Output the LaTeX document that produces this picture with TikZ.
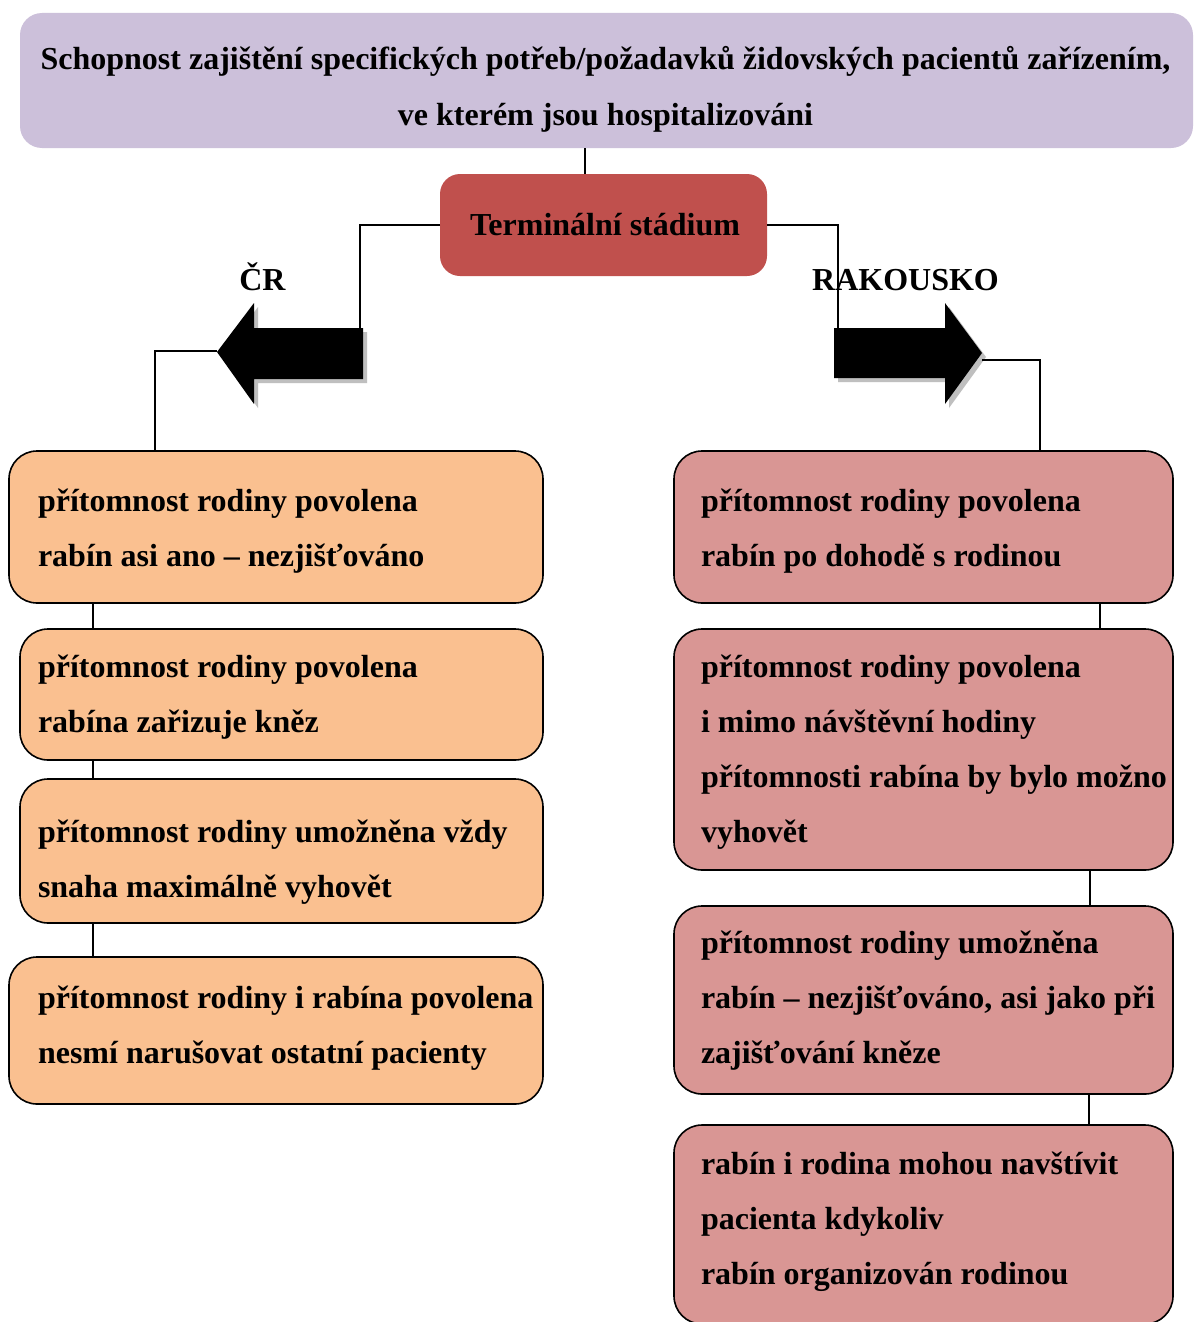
\documentclass[tikz,border=0pt]{standalone}
\usepackage{fontspec}
\setmainfont{Liberation Serif}
\definecolor{headfill}{HTML}{CCC0DA}
\definecolor{termfill}{HTML}{C0504D}
\definecolor{czfill}{HTML}{FAC090}
\definecolor{atfill}{HTML}{D99694}
\definecolor{shadegray}{HTML}{BFBFBF}
% one text line per node, baselines 55pt apart
\newcommand\boxtext[4]{%
  \foreach \s [count=\k] in {#4} {\node[txt] (#1-\k) at (#2,{#3+55*(\k-1)}) {\s};}}
\begin{document}
\begin{tikzpicture}[x=1pt,y=-1pt,
  every node/.style={inner sep=0pt, outer sep=0pt},
  headbox/.style={rectangle, fill=headfill, rounded corners=22pt, anchor=north west},
  termbox/.style={rectangle, fill=termfill, rounded corners=20pt, anchor=north west},
  czbox/.style={rectangle, draw=black, line width=1.6pt, fill=czfill, rounded corners=28pt, anchor=north west},
  atbox/.style={rectangle, draw=black, line width=1.6pt, fill=atfill, rounded corners=28pt, anchor=north west},
  txt/.style={anchor=base west, font=\bfseries\fontsize{32}{38}\selectfont},
  ctxt/.style={anchor=base, font=\bfseries\fontsize{32}{38}\selectfont},
  conn/.style={draw=black, line width=1.3pt},
  bigarrow/.style={fill=black},
  arrowshade/.style={fill=shadegray}]

\fill[white] (0,0) rectangle (1194,1322);
\useasboundingbox (0,0) rectangle (1194,1322);

% heading
\node[headbox, minimum width=1173pt, minimum height=135pt] (top) at (20,13) {};
\node[ctxt] (top-1) at (605.5,70) {Schopnost zajištění specifických potřeb/požadavků židovských pacientů zařízením,};
\node[ctxt] (top-2) at (605.5,125) {ve kterém jsou hospitalizováni};

% stage
\node[termbox, minimum width=327pt, minimum height=102pt] (term) at (440,174) {};
\node[ctxt] (term-1) at (605,235) {Terminální stádium};

% branch labels
\node[ctxt] (cz) at (262.5,290) {ČR};
\node[ctxt] (at) at (905.5,290) {RAKOUSKO};

% block arrows
\fill[arrowshade, shift={(4,4)}] (363,328) -- (254,328) -- (254,303) -- (217,352) -- (254,404) -- (254,379) -- (363,379) -- cycle;
\fill[bigarrow] (363,328) -- (254,328) -- (254,303) -- (217,352) -- (254,404) -- (254,379) -- (363,379) -- cycle;
\fill[arrowshade, shift={(4,4)}] (834,328) -- (945,328) -- (945,303) -- (982,353) -- (945,404) -- (945,378) -- (834,378) -- cycle;
\fill[bigarrow] (834,328) -- (945,328) -- (945,303) -- (982,353) -- (945,404) -- (945,378) -- (834,378) -- cycle;
\coordinate (ltail) at (360,328);
\coordinate (ltip) at (217,351);
\coordinate (rtail) at (838,328);
\coordinate (rtip) at (982,360);

% Czech column
\node[czbox, minimum width=534pt, minimum height=152pt] (l1) at (9,451) {};
\node[czbox, minimum width=523pt, minimum height=131pt] (l2) at (20,629) {};
\node[czbox, minimum width=523pt, minimum height=144pt] (l3) at (20,779) {};
\node[czbox, minimum width=534pt, minimum height=147pt] (l4) at (9,957) {};
\boxtext{l1t}{38}{511}{{přítomnost rodiny povolena},{rabín asi ano – nezjišťováno}}
\boxtext{l2t}{38}{677}{{přítomnost rodiny povolena},{rabína zařizuje kněz}}
\boxtext{l3t}{38}{842}{{přítomnost rodiny umožněna vždy},{snaha maximálně vyhovět}}
\boxtext{l4t}{38}{1008}{{přítomnost rodiny i rabína povolena},{nesmí narušovat ostatní pacienty}}

% Austrian column
\node[atbox, minimum width=499pt, minimum height=152pt] (r1) at (674,451) {};
\node[atbox, minimum width=499pt, minimum height=241pt] (r2) at (674,629) {};
\node[atbox, minimum width=499pt, minimum height=188pt] (r3) at (674,906) {};
\node[atbox, minimum width=499pt, minimum height=199pt] (r4) at (674,1125) {};
\boxtext{r1t}{701}{511}{{přítomnost rodiny povolena},{rabín po dohodě s rodinou}}
\boxtext{r2t}{701}{677}{{přítomnost rodiny povolena},{i mimo návštěvní hodiny},{přítomnosti rabína by bylo možno},{vyhovět}}
\boxtext{r3t}{701}{953}{{přítomnost rodiny umožněna},{rabín – nezjišťováno, asi jako při},{zajišťování kněze}}
\boxtext{r4t}{701}{1174}{{rabín i rodina mohou navštívit},{pacienta kdykoliv},{rabín organizován rodinou}}

% connectors
\draw[conn] ([xshift=-18.5pt]term.north) -- ([xshift=-18.5pt]term.north |- top.south);
\draw[conn] (term.west) -| (ltail);
\draw[conn] (term.east) -| (rtail);
\draw[conn] (ltip) -| ([xshift=146pt]l1.north west);
\draw[conn] (rtip) -| ([xshift=366pt]r1.north west);
\draw[conn] ([xshift=84pt]l1.south west) -- ([xshift=84pt]l1.south west |- l2.north);
\draw[conn] ([xshift=73pt]l2.south west) -- ([xshift=73pt]l2.south west |- l3.north);
\draw[conn] ([xshift=73pt]l3.south west) -- ([xshift=73pt]l3.south west |- l4.north);
\draw[conn] ([xshift=426pt]r1.south west) -- ([xshift=426pt]r1.south west |- r2.north);
\draw[conn] ([xshift=416pt]r2.south west) -- ([xshift=416pt]r2.south west |- r3.north);
\draw[conn] ([xshift=415pt]r3.south west) -- ([xshift=415pt]r3.south west |- r4.north);
\end{tikzpicture}
\end{document}
